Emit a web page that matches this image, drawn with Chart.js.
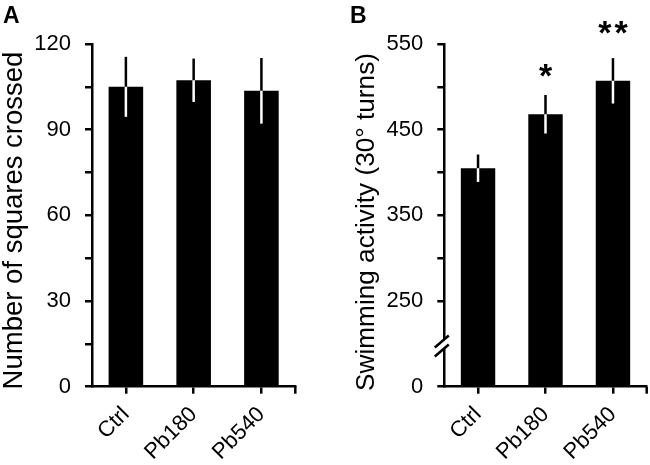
<!DOCTYPE html>
<html>
<head>
<meta charset="utf-8">
<script src="https://cdn.jsdelivr.net/npm/chart.js@4.4.1/dist/chart.umd.min.js"></script>
<style>
  html, body { margin: 0; padding: 0; background: #fff; }
  #wrap { position: relative; width: 650px; height: 465px; }
  canvas { position: absolute; top: 0; }
</style>
</head>
<body>
<div id="wrap">
  <canvas id="chartA" width="325" height="465" style="left:0"></canvas>
  <canvas id="chartB" width="325" height="465" style="left:325px"></canvas>
</div>
<script>
const groups = ["Ctrl", "Pb180", "Pb540"];

// panel A: number of squares crossed
const squaresMean = [105, 107.3, 103.6];
const squaresErr = [10.5, 7.6, 11.5];

// panel B: swimming activity (30° turns)
const swimMean = [405, 468, 507];
const swimErr = [16, 22.5, 26.5];
const swimSig = ["", "*", "**"];

const FONT = "'Liberation Sans', Arial, sans-serif";
Chart.defaults.color = '#000';
Chart.defaults.font.family = FONT;

// mean +/- error drawn as a single stick: black above the bar top, white inside the bar
const errorBars = {
  id: 'errorBars',
  afterDatasetsDraw(chart, args, opts) {
    const ctx = chart.ctx;
    const y = chart.scales.y;
    const meta = chart.getDatasetMeta(0);
    ctx.save();
    ctx.lineWidth = 2.5;
    ctx.lineCap = 'butt';
    meta.data.forEach((bar, i) => {
      const m = opts.mean[i], e = opts.err[i];
      const top = y.getPixelForValue(m + e);
      const bot = y.getPixelForValue(m - e);
      ctx.strokeStyle = '#000';
      ctx.beginPath();
      ctx.moveTo(bar.x, bar.y);
      ctx.lineTo(bar.x, top);
      ctx.stroke();
      ctx.strokeStyle = '#fff';
      ctx.beginPath();
      ctx.moveTo(bar.x, bar.y);
      ctx.lineTo(bar.x, bot);
      ctx.stroke();
      if (opts.sig && opts.sig[i]) {
        ctx.fillStyle = '#000';
        ctx.font = 'bold 34px ' + FONT;
        ctx.letterSpacing = '3px';
        ctx.textAlign = 'center';
        ctx.textBaseline = 'alphabetic';
        const gap = opts.sig[i].length > 1 ? 24 : 18;
        const mt = ctx.measureText(opts.sig[i]);
        ctx.fillText(opts.sig[i], bar.x + 1.5, top - gap - mt.actualBoundingBoxDescent);
      }
    });
    ctx.restore();
  }
};

// tick at the right end of the x axis, y title, panel letter and the y axis break
const axisExtras = {
  id: 'axisExtras',
  afterDraw(chart, args, opts) {
    const ctx = chart.ctx;
    const area = chart.chartArea;
    ctx.save();
    ctx.strokeStyle = '#000';
    ctx.lineWidth = 2.5;
    ctx.beginPath();
    ctx.moveTo(area.right, area.bottom);
    ctx.lineTo(area.right, area.bottom + 7);
    ctx.stroke();

    ctx.fillStyle = '#000';
    ctx.font = 'bold 23px ' + FONT;
    ctx.textAlign = 'left';
    ctx.textBaseline = 'alphabetic';
    ctx.fillText(opts.letter, opts.letterX, opts.letterY);

    ctx.save();
    ctx.translate(opts.titleX, opts.titleY);
    ctx.rotate(-Math.PI / 2);
    ctx.font = opts.titleSize + 'px ' + FONT;
    ctx.textAlign = 'center';
    ctx.textBaseline = 'middle';
    ctx.fillText(opts.title, 0, 0);
    ctx.restore();

    if (opts.breakAt !== undefined) {
      const x0 = area.left;
      const yb = chart.scales.y.getPixelForValue(opts.breakAt);
      const l1 = [[x0 - 9.5, yb + 3.6], [x0 + 4.5, yb - 8.4]];
      const l2 = [[x0 - 9.5, yb + 12.6], [x0 + 4.5, yb + 0.6]];
      ctx.fillStyle = '#fff';
      ctx.beginPath();
      ctx.moveTo(l1[0][0], l1[0][1]);
      ctx.lineTo(l1[1][0], l1[1][1]);
      ctx.lineTo(l2[1][0], l2[1][1]);
      ctx.lineTo(l2[0][0], l2[0][1]);
      ctx.closePath();
      ctx.fill();
      [l1, l2].forEach(l => {
        ctx.beginPath();
        ctx.moveTo(l[0][0], l[0][1]);
        ctx.lineTo(l[1][0], l[1][1]);
        ctx.stroke();
      });
    }
    ctx.restore();
  }
};

function makePanel (elem, opt) {
  return new Chart(elem, {
    type: 'bar',
    data: {
      labels: groups,
      datasets: [{
        data: opt.mean,
        backgroundColor: '#000',
        borderWidth: 0,
        barPercentage: 0.51,
        categoryPercentage: 1
      }]
    },
    options: {
      responsive: false,
      animation: false,
      layout: { padding: { top: 44, right: opt.padRight, left: 0, bottom: 0 } },
      plugins: {
        legend: { display: false },
        tooltip: { enabled: false },
        errorBars: { mean: opt.mean, err: opt.err, sig: opt.sig },
        axisExtras: {
          letter: opt.letter, letterX: opt.letterX, letterY: opt.letterY, breakAt: opt.breakAt,
          title: opt.title, titleSize: opt.titleSize, titleX: opt.titleX, titleY: opt.titleY
        }
      },
      scales: {
        x: {
          afterFit: s => { s.height = 78.3; },
          grid: {
            display: true,
            drawOnChartArea: false,
            drawTicks: true,
            tickLength: 7,
            offset: false,
            color: '#000',
            lineWidth: 2.5
          },
          border: { display: true, color: '#000', width: 2.5 },
          ticks: {
            maxRotation: 45,
            minRotation: 45,
            padding: 8,
            font: { size: 22 }
          }
        },
        y: {
          min: opt.min,
          max: opt.max,
          afterFit: s => { s.width = opt.axisWidth; },
          grid: {
            display: true,
            drawOnChartArea: false,
            drawTicks: true,
            tickLength: 7,
            color: ctx => (ctx.tick && ctx.tick.value === opt.breakAt) ? 'rgba(0,0,0,0)' : '#000',
            lineWidth: 2.5
          },
          border: { display: true, color: '#000', width: 2.5 },
          ticks: {
            stepSize: opt.step,
            autoSkip: false,
            padding: 14,
            font: { size: 22 },
            callback: opt.tickLabel
          }
        }
      }
    },
    plugins: [errorBars, axisExtras]
  });
}

makePanel(document.getElementById('chartA'), {
  mean: squaresMean, err: squaresErr, sig: null,
  min: 0, max: 120, step: 15,
  tickLabel: v => (v % 30 === 0 ? v : ''),
  title: 'Number of squares crossed', titleSize: 27.5, titleX: 14.8, titleY: 220.5,
  axisWidth: 92, padRight: 29.7,
  letter: 'A', letterX: 3, letterY: 23
});

makePanel(document.getElementById('chartB'), {
  mean: swimMean, err: swimErr, sig: swimSig,
  min: 150, max: 550, step: 50,
  tickLabel: v => (v === 150 ? '0' : (v % 100 === 50 ? v : '')),
  title: 'Swimming activity (30° turns)', titleSize: 26.2, titleX: 41.3, titleY: 222,
  axisWidth: 119.3, padRight: 3.3, breakAt: 200,
  letter: 'B', letterX: 25, letterY: 23
});
</script>
</body>
</html>
